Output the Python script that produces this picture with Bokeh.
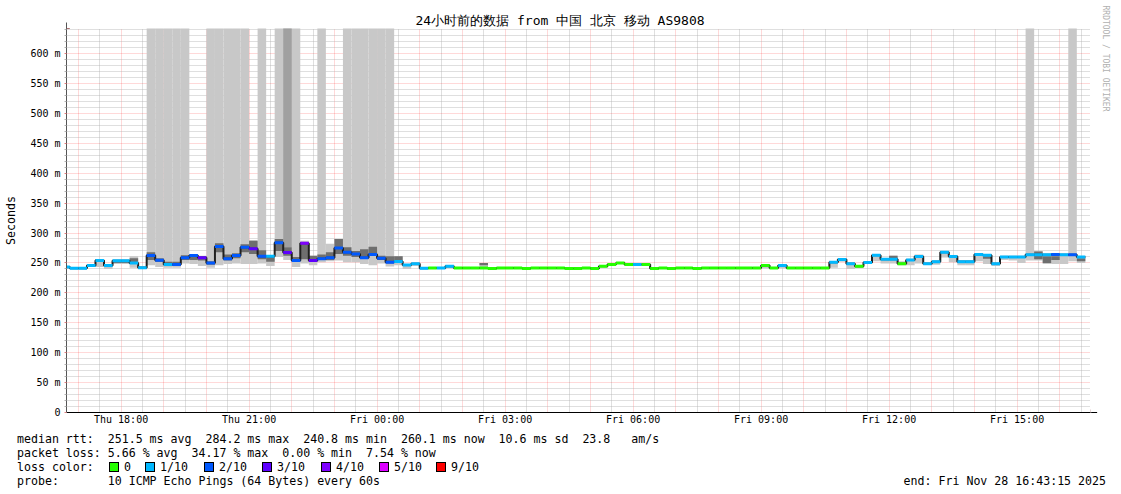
import pandas as pd
from bokeh.plotting import figure
from bokeh.models import (FixedTicker, DatetimeTickFormatter, Range1d, Arrow, Title,
                          NormalHead, Div, ColumnDataSource)
from bokeh.layouts import column
from bokeh.embed import file_html
from bokeh.resources import INLINE

# ---------------- data ----------------
TITLE = "24小时前的数据 from 中国 北京 移动 AS9808"
START = "2025-11-27 16:43:15"
END = "2025-11-28 16:43:15"
FIRST_BIN = "2025-11-27 16:36"
BIN_MIN = 12
Y_TOP = 641.8  # ms

# median rtt per 12-minute bin (ms)
median_ms = [
    243, 241, 241, 245.5, 254, 245.5, 253.5, 253.5, 250, 242,
    262.5, 254.5, 247.5, 247.5, 258.5, 262.5, 258.5, 250, 277.5, 257,
    262.5, 276, 273.5, 261, 261, 283.6, 267.5, 254, 283, 254,
    257, 258.5, 275, 268, 265, 258.5, 264, 258, 251, 252.5,
    246.5, 248.5, 241.2, 241.5, 241.5, 244.5, 241.5, 241.5, 241.5, 241.5,
    240.8, 241.5, 241.5, 241.5, 240.8, 241.5, 241.5, 241.5, 241.5, 240.8,
    240.8, 241.5, 240.8, 244.5, 247.4, 250, 247.4, 247.4, 247.4, 240.8,
    241.5, 240.8, 241.5, 241.5, 240.8, 241.5, 241.5, 241.5, 241.5, 241.5,
    241.5, 241.5, 245.5, 241.5, 245.5, 241.5, 241.5, 241.5, 241.5, 241.5,
    251, 255.7, 248.5, 244.5, 250.7, 263, 256, 256, 248.5, 255,
    260.7, 248.5, 252, 268, 260.7, 252, 252, 264, 263, 248.5,
    260, 260, 260, 263.5, 263.5, 263.5, 264, 263.5, 263.5, 260.1,
]

# loss level per bin (index into loss_labels)
loss_level = [
    1, 1, 1, 1, 1, 1, 1, 1, 1, 1,
    2, 2, 1, 2, 2, 2, 3, 2, 2, 2,
    2, 2, 3, 2, 1, 2, 3, 2, 4, 3,
    2, 2, 2, 2, 2, 2, 2, 2, 2, 1,
    1, 1, 1, 0, 1, 1, 0, 0, 0, 0,
    0, 0, 0, 0, 0, 0, 0, 0, 0, 0,
    0, 0, 0, 0, 0, 0, 0, 1, 0, 0,
    0, 0, 0, 0, 0, 0, 0, 0, 0, 0,
    0, 0, 0, 0, 1, 0, 0, 0, 0, 0,
    1, 1, 1, 0, 1, 1, 1, 1, 0, 1,
    1, 1, 1, 1, 1, 1, 1, 1, 1, 1,
    1, 1, 1, 1, 1, 1, 2, 1, 2, 1,
]
loss_labels = ["0", "1/10", "2/10", "3/10", "4/10", "5/10", "9/10"]
loss_colors = ["#26ff00", "#00b8ff", "#0059ff", "#5e00ff", "#7e00ff", "#dd00ff", "#ff0000"]

# smoke (spread of the pings) per bin, ms; 700 = beyond the top of the chart
N = None
smoke_lo = [
    240, N, N, 243, 243, 240, 248, 248, 242, 240,
    246, 243, 242, 242, 249, 248, 245, 242, 246, 248,
    249, 248, 248, 249, 245, 260, 255, 243, 249, 246,
    251, 253, 254, 251, 251, 248, 246, 249, 244, 246,
    240, 245, N, N, N, 241, N, N, N, 241,
    N, N, N, N, N, N, N, N, N, N,
    N, N, N, N, N, N, N, N, N, N,
    N, N, N, N, N, N, N, N, N, N,
    N, N, 241, N, 241, N, N, N, N, N,
    242, 252, 240, 242, 249, 253, 249, 249, 246, 246,
    249, 247, 247, 259, 251, 246, 246, 253, 248, 245,
    255, 254, 250, 254, 254, 248, 248, 248, 253, 250,
]
smoke_hi = [
    244, N, N, 246, 256, 246, 255, 255, 261, 245,
    700, 700, 700, 700, 700, 264, 262, 700, 700, 700,
    700, 700, 288, 700, 262, 700, 700, 700, 287, 262,
    700, 282, 290, 700, 700, 700, 700, 700, 700, 261,
    248, 250, N, N, N, 246, N, N, N, 250,
    N, N, N, N, N, N, N, N, N, N,
    N, N, N, N, N, N, N, N, N, N,
    N, N, N, N, N, N, N, N, N, N,
    N, N, 246, N, 246, N, N, N, N, N,
    253, 257, 251, 246, 252, 265, 257, 262, 253, 257,
    264, 251, 254, 270, 263, 255, 255, 266, 265, 250,
    262, 262, 262, 700, 270, 265, 266, 265, 700, 261,
]
# dense core of the smoke around the median
dark_lo = [
    N, N, N, N, 253, N, 250, 250, 248, N,
    255, 252, 246, 245, 255, 255, 254, 247, 268, 254,
    258, 268, 265, 256, 252, 270, 262, 252, 256, 252,
    255, 255, 265, 262, 260, 257, 262, 255, 250, 250,
    N, N, N, N, N, N, N, N, N, 246,
    N, N, N, N, N, N, N, N, N, N,
    N, N, N, N, N, N, N, N, N, N,
    N, N, N, N, N, N, N, N, N, N,
    N, N, N, N, N, N, N, N, N, N,
    N, N, N, N, N, N, N, 256, N, N,
    N, N, N, N, N, N, N, N, 257, N,
    N, N, N, N, 256, 250, 255, N, N, 253,
]
dark_hi = [
    N, N, N, N, 256, N, 255, 255, 258, N,
    268, 258, 252, 252, 263, 263, 261, 253, 283, 264,
    266, 281, 287, 271, 262, 290, 276, 260, 285, 262,
    264, 268, 290, 276, 270, 273, 277, 262, 261, 261,
    N, N, N, N, N, N, N, N, N, 250,
    N, N, N, N, N, N, N, N, N, N,
    N, N, N, N, N, N, N, N, N, N,
    N, N, N, N, N, N, N, N, N, N,
    N, N, N, N, N, N, N, N, N, N,
    N, N, N, N, N, N, N, 262, N, N,
    N, N, N, N, N, N, N, N, 261, N,
    N, N, N, N, 269, 261, 261, N, N, 258,
]
double_spike_bins = [26]   # bins with two pings above the chart top

x_label_ticks = ["2025-11-27 18:00", "2025-11-27 21:00", "2025-11-28 00:00", "2025-11-28 03:00",
                 "2025-11-28 06:00", "2025-11-28 09:00", "2025-11-28 12:00", "2025-11-28 15:00"]
y_ticks = [0, 50, 100, 150, 200, 250, 300, 350, 400, 450, 500, 550, 600]
y_tick_labels = ["0", "50 m", "100 m", "150 m", "200 m", "250 m", "300 m", "350 m",
                 "400 m", "450 m", "500 m", "550 m", "600 m"]
y_label = "Seconds"

stat_lines = [
    "median rtt:  251.5 ms avg  284.2 ms max  240.8 ms min  260.1 ms now  10.6 ms sd  23.8   am/s",
    "packet loss: 5.66 % avg  34.17 % max  0.00 % min  7.54 % now",
]
probe_line = "probe:       10 ICMP Echo Pings (64 Bytes) every 60s"
end_line = "end: Fri Nov 28 16:43:15 2025"
watermark = "RRDTOOL / TOBI OETIKER"

# ---------------- build ----------------
MONO = "DejaVu Sans Mono"


def ms(ts):
    return pd.Timestamp(ts).value // 10**6


x0, x1 = ms(START), ms(END)
step = BIN_MIN * 60000
bin_start = [ms(FIRST_BIN) + i * step for i in range(len(median_ms))]
bin_end = [b + step for b in bin_start]

p = figure(width=1121, height=428, x_axis_type="datetime",
           x_range=Range1d(x0, x1), y_range=Range1d(0, Y_TOP),
           output_backend="svg", toolbar_location=None,
           min_border_left=66, min_border_right=31, min_border_top=28, min_border_bottom=16)
p.outline_line_color = None
p.background_fill_color = "white"
p.border_fill_color = "white"

# title
p.title.text = TITLE
p.title.align = "left"
p.title.offset = 349
p.title.standoff = 1
p.title.text_font = MONO
p.title.text_font_size = "13px"
p.title.text_font_style = "normal"
p.title.text_color = "#000000"

# vertical watermark on the right
p.add_layout(Title(text=watermark, align="left", offset=-23, standoff=20, text_font=MONO,
                   text_font_size="8px", text_font_style="normal", text_color="#b0b0b0"), "right")

# grids
hour_ticks = [ms(t) for t in pd.date_range("2025-11-27 17:00", "2025-11-28 16:00", freq="1h")]
half_ticks = [ms(t) for t in pd.date_range("2025-11-27 17:30", "2025-11-28 16:30", freq="1h")]
p.xgrid.ticker = FixedTicker(ticks=hour_ticks, minor_ticks=half_ticks)
p.xgrid.grid_line_color = "#ff0000"
p.xgrid.grid_line_alpha = 0.3
p.xgrid.grid_line_dash = "1 1"
p.xgrid.minor_grid_line_color = "#b0b0b0"
p.xgrid.minor_grid_line_alpha = 0.8
p.xgrid.minor_grid_line_dash = "1 1"

y_minor = [v for v in range(10, 641, 10) if v % 50 != 0]
p.ygrid.ticker = FixedTicker(ticks=y_ticks[1:], minor_ticks=y_minor)
p.ygrid.grid_line_color = "#ff0000"
p.ygrid.grid_line_alpha = 0.3
p.ygrid.grid_line_dash = "1 1"
p.ygrid.minor_grid_line_color = "#b0b0b0"
p.ygrid.minor_grid_line_alpha = 0.8
p.ygrid.minor_grid_line_dash = "1 1"

# axes
p.xaxis.ticker = FixedTicker(ticks=[ms(t) for t in x_label_ticks], minor_ticks=half_ticks + hour_ticks)
fmt = "%a %H:%M"
p.xaxis.formatter = DatetimeTickFormatter(milliseconds=fmt, seconds=fmt, minsec=fmt, minutes=fmt,
                                          hourmin=fmt, hours=fmt, days=fmt, months=fmt, years=fmt)
p.yaxis.ticker = FixedTicker(ticks=y_ticks, minor_ticks=y_minor)
p.yaxis.major_label_overrides = {v: s for v, s in zip(y_ticks, y_tick_labels)}
for ax in (p.xaxis[0], p.yaxis[0]):
    ax.major_label_text_font = MONO
    ax.major_label_text_font_size = "10px"
    ax.major_label_text_color = "#000000"
    ax.major_tick_in = 0
    ax.minor_tick_in = 0
    ax.major_tick_line_color = "#e08080"
    ax.minor_tick_line_color = "#b0b0b0"
p.xaxis.major_tick_out = 0
p.xaxis.minor_tick_out = 0
p.yaxis.major_tick_out = 2
p.yaxis.minor_tick_out = 2
p.xaxis.major_label_standoff = 1
p.yaxis.major_label_standoff = 4
p.xaxis.axis_line_color = "#000000"
p.yaxis.axis_line_color = "#555555"
p.yaxis.axis_label = y_label
p.yaxis.axis_label_text_font = MONO
p.yaxis.axis_label_text_font_size = "11.6px"
p.yaxis.axis_label_text_font_style = "normal"
p.yaxis.axis_label_text_color = "#000000"
p.yaxis.axis_label_standoff = 9

# smoke
def quads(lo, hi):
    d = dict(left=[], right=[], bottom=[], top=[])
    for i, (a, b) in enumerate(zip(lo, hi)):
        if a is None or b is None:
            continue
        d["left"].append(bin_start[i]); d["right"].append(bin_end[i])
        d["bottom"].append(a); d["top"].append(b)
    return ColumnDataSource(d)

p.quad(left="left", right="right", bottom="bottom", top="top", source=quads(smoke_lo, smoke_hi),
       fill_color="#c8c8c8", line_color=None)
p.quad(left=[bin_start[i] for i in double_spike_bins], right=[bin_end[i] for i in double_spike_bins],
       bottom=[dark_hi[i] for i in double_spike_bins], top=[700 for _ in double_spike_bins],
       fill_color="#a0a0a0", line_color=None)
p.quad(left="left", right="right", bottom="bottom", top="top", source=quads(dark_lo, dark_hi),
       fill_color="#6e6e6e", line_color=None)

# median line: dark steps + loss-coloured plateaus
p.step(x=bin_start + [bin_end[-1]], y=median_ms + [median_ms[-1]], mode="after",
       line_color="#202020", line_width=2)
p.segment(x0=bin_start, x1=bin_end, y0=median_ms, y1=median_ms,
          line_color=[loss_colors[l] for l in loss_level], line_width=3)

# axis arrows
p.add_layout(Arrow(end=NormalHead(size=6, fill_color="#7a1c1c", line_color="#7a1c1c"),
                   x_start=x0, y_start=Y_TOP - 1, x_end=x0, y_end=Y_TOP + 10,
                   line_color="#555555", line_width=1))
p.add_layout(Arrow(end=NormalHead(size=6, fill_color="#7a1c1c", line_color="#7a1c1c"),
                   x_start=x1 - 60000, y_start=0, x_end=x1 + 560000, y_end=0,
                   line_color="#000000", line_width=1))

# legend / stats block below the chart
def span(left, top, txt, extra=""):
    return f'<span style="position:absolute;left:{left}px;top:{top}px;{extra}">{txt}</span>'

box_x = [104, 140, 199, 257, 316, 374, 431]
parts = [span(12, -1, stat_lines[0]), span(12, 13, stat_lines[1]), span(12, 27, "loss color:")]
for bx, lab, col in zip(box_x, loss_labels, loss_colors):
    parts.append(f'<span style="position:absolute;left:{bx}px;top:29px;width:10px;height:10px;'
                 f'box-sizing:border-box;border:1px solid #000;background:{col}"></span>')
    parts.append(span(bx + 15, 27, lab))
parts.append(span(12, 41, probe_line))
parts.append(f'<span style="position:absolute;right:20px;top:41px">{end_line}</span>')
html = ('<div style="position:relative;width:1121px;height:56px;'
        "font-family:'DejaVu Sans Mono',monospace;font-size:11.6px;line-height:14px;"
        'color:#000;white-space:pre">' + "".join(parts) + "</div>")
div = Div(text=html, width=1121, height=56)

layout = column(p, div)
open("out.html", "w").write(file_html(layout, INLINE))
